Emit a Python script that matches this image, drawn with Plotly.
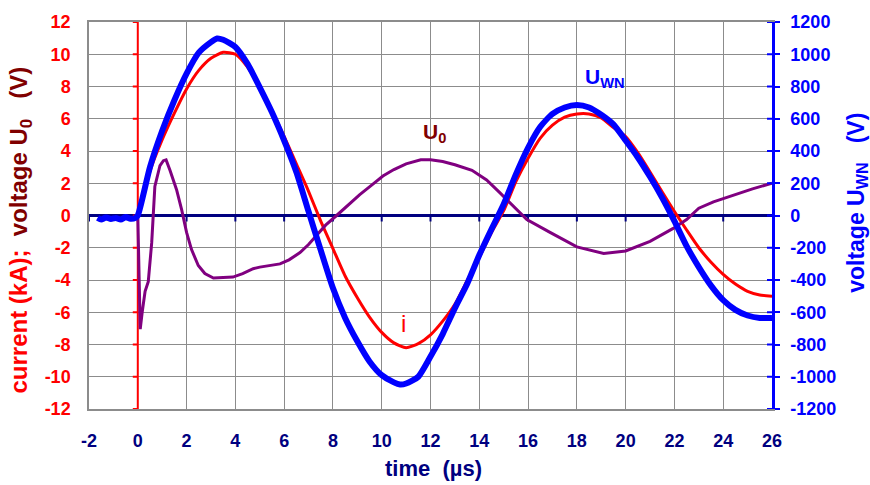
import plotly.graph_objects as go

FONT = "Liberation Sans"
RED = "#FF0000"
BLUE = "#0000FF"
PURPLE = "#800080"
NAVY = "#000080"
DARKRED = "#800000"
GRID = "#8C8C8C"

# ---- data -------------------------------------------------------------
# current i (kA), sampled every 0.5 µs
t_i = [0.0, 0.5, 1.0, 1.5, 2.0, 2.5, 3.0, 3.5, 4.0, 4.5, 5.0, 5.5, 6.0, 6.5,
       7.0, 7.5, 8.0, 8.5, 9.0, 9.5, 10.0, 10.5, 11.0, 11.5, 12.0, 12.5, 13.0,
       13.5, 14.0, 14.5, 15.0, 15.5, 16.0, 16.5, 17.0, 17.5, 18.0, 18.5, 19.0,
       19.5, 20.0, 20.5, 21.0, 21.5, 22.0, 22.5, 23.0, 23.5, 24.0, 24.5, 25.0,
       25.5, 26.0]
current_kA = [0.0, 2.75, 4.7, 6.35, 7.85, 9.0, 9.75, 10.12, 10.0, 9.2, 7.95,
              6.5, 4.9, 3.2, 1.5, -0.35, -2.05, -3.75, -5.1, -6.3, -7.25, -7.9,
              -8.2, -7.95, -7.4, -6.55, -5.5, -4.05, -2.6, -1.05, 0.3, 2.1, 3.55,
              4.8, 5.6, 6.1, 6.3, 6.3, 6.05, 5.45, 4.9, 3.9, 2.7, 1.45, 0.25,
              -0.9, -2.0, -2.9, -3.65, -4.25, -4.7, -4.93, -5.0]

# winding voltage U_WN (V): pre-trigger baseline, then the oscillation
t_wn = [-1.65, -1.5, -1.3, -1.1, -0.9, -0.7, -0.5, -0.3, -0.1,
        0.0, 0.5, 1.0, 1.5, 2.0, 2.5, 3.0, 3.25, 3.5, 4.0, 4.5, 5.0, 5.5, 6.0,
        6.5, 7.0, 7.5, 8.0, 8.5, 9.0, 9.5, 10.0, 10.5, 10.75, 11.0, 11.5, 12.0,
        12.5, 13.0, 13.5, 14.0, 14.5, 15.0, 15.5, 16.0, 16.5, 17.0, 17.5, 18.0,
        18.5, 19.0, 19.5, 20.0, 20.5, 21.0, 21.5, 22.0, 22.5, 23.0, 23.5, 24.0,
        24.5, 25.0, 25.5, 26.0]
u_wn_V = [-15, -25, -12, -22, -15, -25, -10, -20, -15,
          0, 300, 525, 715, 880, 1010, 1075, 1098, 1090, 1045, 940, 795, 640,
          465, 270, 25, -215, -450, -635, -780, -905, -990, -1035, -1048,
          -1042, -1000, -875, -735, -575, -425, -245, -85, 70, 255, 420, 550,
          630, 670, 685, 670, 625, 565, 465, 360, 240, 110, -35, -190, -320,
          -435, -525, -585, -620, -635, -635]

# measured voltage U0 (V)
t_u0 = [0.0, 0.05, 0.1, 0.18, 0.3, 0.43, 0.57, 0.7, 0.91, 1.05, 1.16, 1.32,
        1.59, 1.8, 2.0, 2.2, 2.48, 2.75, 3.1, 3.5, 3.9, 4.3, 4.73, 5.0, 5.5,
        5.83, 6.2, 6.65, 7.0, 7.33, 7.7, 8.15, 8.7, 9.1, 9.6, 10.05, 10.5,
        11.0, 11.6, 12.0, 12.5, 13.0, 13.7, 14.3, 14.85, 15.4, 15.95, 16.9,
        18.0, 19.1, 20.0, 21.0, 21.95, 22.5, 23.0, 23.6, 24.4, 25.2, 26.0]
u0_V = [0.0, -4.5, -7.05, -6.0, -4.7, -4.1, -1.7, 1.8, 3.1, 3.4, 3.45, 2.8,
        1.6, 0.35, -1.05, -2.1, -3.1, -3.6, -3.88, -3.85, -3.82, -3.6, -3.3,
        -3.2, -3.1, -3.0, -2.75, -2.3, -1.8, -1.25, -0.6, 0.0, 0.75, 1.3, 1.9,
        2.45, 2.85, 3.2, 3.45, 3.45, 3.35, 3.15, 2.8, 2.2, 1.4, 0.55, -0.25,
        -1.05, -1.95, -2.35, -2.2, -1.6, -0.8, -0.25, 0.45, 0.85, 1.25, 1.65,
        2.0]

# axis ticks
x_ticks = list(range(-2, 27, 2))
left_ticks = list(range(-12, 13, 2))
right_ticks = list(range(-1200, 1201, 200))

# ---- figure -----------------------------------------------------------
fig = go.Figure()
fig.add_trace(go.Scatter(x=t_i, y=current_kA, mode="lines", name="i",
                         line=dict(color=RED, width=3, shape="spline", smoothing=0.6)))
fig.add_trace(go.Scatter(x=t_wn, y=u_wn_V, mode="lines", name="U_WN", yaxis="y2",
                         line=dict(color=BLUE, width=6, shape="spline", smoothing=0.6)))
fig.add_trace(go.Scatter(x=t_u0, y=u0_V, mode="lines", name="U0",
                         line=dict(color=PURPLE, width=3)))

tick_font = dict(family=FONT, size=18, weight="bold")

fig.update_layout(
    width=870, height=485,
    margin=dict(l=89, r=98, t=16, b=76),
    paper_bgcolor="white", plot_bgcolor="white",
    showlegend=False,
    xaxis=dict(range=[-2, 26], tickvals=x_ticks, ticktext=[str(v) for v in x_ticks],
               ticks="", ticklabelstandoff=15,
               tickfont=dict(tick_font, color=NAVY),
               showgrid=True, gridcolor=GRID, gridwidth=1,
               showline=True, linecolor=GRID, linewidth=1.5, mirror=True,
               zeroline=False),
    yaxis=dict(range=[-12, 12], tickvals=left_ticks, ticktext=[str(v) for v in left_ticks],
               ticks="", ticklabelstandoff=13,
               tickfont=dict(tick_font, color=RED),
               showgrid=True, gridcolor=GRID, gridwidth=1,
               showline=True, linecolor=GRID, linewidth=1.5,
               zeroline=True, zerolinecolor=NAVY, zerolinewidth=2.5),
    yaxis2=dict(range=[-1200, 1200], tickvals=right_ticks, ticktext=[str(v) for v in right_ticks],
                overlaying="y", side="right",
                ticks="outside", ticklen=5, tickwidth=2, tickcolor=BLUE,
                ticklabelstandoff=7,
                tickfont=dict(tick_font, color=BLUE),
                showgrid=False, zeroline=False,
                showline=True, linecolor=BLUE, linewidth=2.5),
)

shapes = []
# navy ticks hanging from the zero line
for xv in x_ticks[:-1]:
    shapes.append(dict(type="line", xref="x", yref="y", ysizemode="pixel", yanchor=0,
                       x0=xv, x1=xv, y0=0, y1=-6, layer="between",
                       line=dict(color=NAVY, width=2)))
# red current/voltage axis crossing at t = 0
shapes.append(dict(type="line", xref="x", yref="y", x0=0, x1=0, y0=-12, y1=12,
                   layer="between", line=dict(color=RED, width=2)))
for yv in left_ticks:
    shapes.append(dict(type="line", xref="x", yref="y", xsizemode="pixel", xanchor=0,
                       x0=-5, x1=0, y0=yv, y1=yv, layer="between",
                       line=dict(color=RED, width=2)))
# inner half of the crossing ticks on the right axis
for yv in right_ticks:
    shapes.append(dict(type="line", xref="paper", yref="y2", xsizemode="pixel", xanchor=1,
                       x0=-5, x1=0, y0=yv, y1=yv,
                       line=dict(color=BLUE, width=2)))
fig.update_layout(shapes=shapes)

SP = "\u00a0"
annotations = [
    # axis titles
    dict(text=f"<b>time{SP}{SP}(µs)</b>", xref="paper", yref="paper", x=0.505, y=-0.153,
         xanchor="center", yanchor="middle", showarrow=False,
         font=dict(family=FONT, size=22, color=NAVY)),
    dict(text=(f"<b><span style='color:#FF0000'>current (kA);</span>{SP}{SP}"
               f"<span style='color:#800000'>voltage U<sub>0</sub>{SP}{SP}{SP}(V)</span></b>"),
         xref="paper", yref="paper", x=-0.1, y=0.463, textangle=-90,
         xanchor="center", yanchor="middle", showarrow=False,
         font=dict(family=FONT, size=24, color=RED)),
    dict(text=f"<b>voltage U<sub>WN</sub>{SP}{SP}{SP}(V)</b>",
         xref="paper", yref="paper", x=1.124, y=0.532, textangle=-90,
         xanchor="center", yanchor="middle", showarrow=False,
         font=dict(family=FONT, size=23, color=BLUE)),
    # curve labels
    dict(text="<b>U<sub>0</sub></b>", xref="x", yref="y", x=12.15, y=5.1,
         xanchor="center", yanchor="middle", showarrow=False,
         font=dict(family=FONT, size=21, color=DARKRED)),
    dict(text="<b>U<sub>WN</sub></b>", xref="x", yref="y", x=19.15, y=8.5,
         xanchor="center", yanchor="middle", showarrow=False,
         font=dict(family=FONT, size=21, color=BLUE)),
    dict(text="i", xref="x", yref="y", x=10.9, y=-6.7,
         xanchor="center", yanchor="middle", showarrow=False,
         font=dict(family=FONT, size=24, color=RED)),
]
fig.update_layout(annotations=annotations)

fig.write_html("out.html")
